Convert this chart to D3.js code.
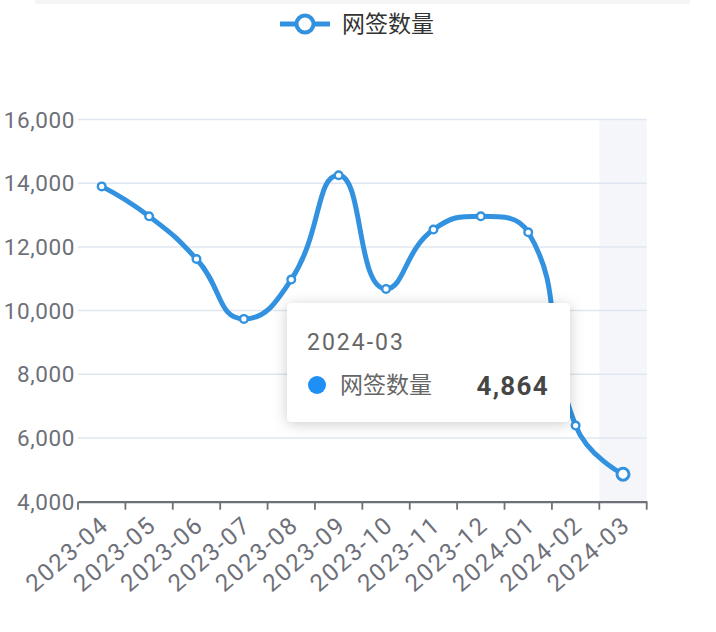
<!DOCTYPE html>
<html><head><meta charset="utf-8">
<script src="https://cdn.jsdelivr.net/npm/d3@7/dist/d3.min.js"></script>
<style>
html,body{margin:0;padding:0;background:#fff;}
svg{display:block;font-family:Roboto,"Noto Sans CJK SC",sans-serif;}
</style></head>
<body>
<svg id="chart" width="716" height="632"></svg>
<script>
const categories = ["2023-04","2023-05","2023-06","2023-07","2023-08","2023-09","2023-10","2023-11","2023-12","2024-01","2024-02","2024-03"];
const values = [13900,12960,11620,9740,10975,14250,10680,12545,12960,12460,6390,4864];
const yTicks = [4000,6000,8000,10000,12000,14000,16000];
const seriesName = "网签数量";
const hoverIndex = 11;

const svg = d3.select("#chart");
const plotLeft = 78, plotRight = 646.7, plotTop = 119.5, plotBottom = 501.7;
const lineColor = "#3292df";

const x = d3.scaleBand().domain(categories).range([plotLeft, plotRight]);
const y = d3.scaleLinear().domain([4000, 16000]).range([plotBottom, plotTop]);

// faint strip at the very top
svg.append("rect").attr("x", 35).attr("y", 0).attr("width", 655).attr("height", 4).attr("fill", "#f5f5f5");

// axis pointer shadow
svg.append("rect")
  .attr("x", x(categories[hoverIndex])).attr("y", plotTop)
  .attr("width", x.bandwidth()).attr("height", plotBottom - plotTop)
  .attr("fill", "#f5f6fa");

// grid lines
svg.append("g").selectAll("line").data(yTicks.filter(d => d !== 4000)).join("line")
  .attr("x1", plotLeft).attr("x2", plotRight)
  .attr("y1", d => y(d)).attr("y2", d => y(d))
  .attr("stroke", "#e0e6f1").attr("stroke-width", 1.5);

// y axis labels
const fmt = d3.format(",");
svg.append("g").selectAll("text").data(yTicks).join("text")
  .attr("x", plotLeft - 3).attr("y", d => y(d))
  .attr("dy", "0.36em")
  .attr("text-anchor", "end")
  .attr("font-size", 22.5)
  .attr("letter-spacing", 0.6)
  .attr("fill", "#6e7079")
  .text(d => fmt(d));

// x axis
const xAxis = d3.axisBottom(x).tickSize(0).tickFormat("");
const gx = svg.append("g").attr("transform", `translate(0,${plotBottom})`).call(xAxis);
gx.select(".domain").attr("stroke", "#6e7079").attr("stroke-width", 2.2);
gx.selectAll(".tick").remove();
const boundaries = categories.map(c => x(c)).concat([plotRight]);
gx.selectAll("line.bt").data(boundaries).join("line").attr("class", "bt")
  .attr("x1", d => d).attr("x2", d => d).attr("y1", 0).attr("y2", 8)
  .attr("stroke", "#6e7079").attr("stroke-width", 1.8);

const angle = -41;
svg.append("g").selectAll("text").data(categories).join("text")
  .attr("transform", d => `translate(${x(d) + x.bandwidth() / 2 + 3},${plotBottom + 19}) rotate(${angle})`)
  .attr("text-anchor", "end")
  .attr("dy", "0.36em")
  .attr("font-size", 24)
  .attr("letter-spacing", 1.8)
  .attr("fill", "#6e7079")
  .text(d => d);

// ECharts-like smooth line
const pts = categories.map((c, i) => [x(c) + x.bandwidth() / 2, y(values[i])]);
function smoothPath(points, smooth) {
  const p = d3.path();
  let cpx0, cpy0, prevX, prevY, nextCpx0, nextCpy0;
  const n = points.length;
  for (let i = 0; i < n; i++) {
    const [px, py] = points[i];
    if (i === 0) {
      p.moveTo(px, py);
      cpx0 = px; cpy0 = py;
    } else {
      let cpx1, cpy1;
      if (i === n - 1) {
        cpx1 = px; cpy1 = py;
      } else {
        const [nx, ny] = points[i + 1];
        let vx = nx - prevX, vy = ny - prevY;
        const dx0 = px - prevX, dy0 = py - prevY, dx1 = nx - px, dy1 = ny - py;
        const lenPrev = Math.hypot(dx0, dy0), lenNext = Math.hypot(dx1, dy1);
        const ratio = lenNext / (lenNext + lenPrev);
        nextCpx0 = px + vx * smooth * ratio;
        nextCpy0 = py + vy * smooth * ratio;
        nextCpx0 = Math.max(Math.min(nextCpx0, Math.max(nx, px)), Math.min(nx, px));
        nextCpy0 = Math.max(Math.min(nextCpy0, Math.max(ny, py)), Math.min(ny, py));
        vx = nextCpx0 - px; vy = nextCpy0 - py;
        cpx1 = px - vx * lenPrev / lenNext;
        cpy1 = py - vy * lenPrev / lenNext;
        cpx1 = Math.max(Math.min(cpx1, Math.max(prevX, px)), Math.min(prevX, px));
        cpy1 = Math.max(Math.min(cpy1, Math.max(prevY, py)), Math.min(prevY, py));
        vx = px - cpx1; vy = py - cpy1;
        nextCpx0 = px + vx * lenNext / lenPrev;
        nextCpy0 = py + vy * lenNext / lenPrev;
      }
      p.bezierCurveTo(cpx0, cpy0, cpx1, cpy1, px, py);
      cpx0 = nextCpx0; cpy0 = nextCpy0;
    }
    prevX = px; prevY = py;
  }
  return p.toString();
}

svg.append("path")
  .attr("d", smoothPath(pts, 0.5))
  .attr("fill", "none")
  .attr("stroke", lineColor)
  .attr("stroke-width", 5)
  .attr("stroke-linejoin", "round")
  .attr("stroke-linecap", "round");

svg.append("g").selectAll("circle").data(pts).join("circle")
  .attr("cx", d => d[0]).attr("cy", d => d[1])
  .attr("r", (d, i) => i === hoverIndex ? 6 : 3.8)
  .attr("fill", "#fff")
  .attr("stroke", lineColor)
  .attr("stroke-width", (d, i) => i === hoverIndex ? 3 : 2.4);

// legend
const lg = svg.append("g");
lg.append("line").attr("x1", 280).attr("x2", 330).attr("y1", 24).attr("y2", 24)
  .attr("stroke", lineColor).attr("stroke-width", 5);
lg.append("circle").attr("cx", 305).attr("cy", 24).attr("r", 8.5)
  .attr("fill", "#fff").attr("stroke", lineColor).attr("stroke-width", 4);
lg.append("text").attr("x", 342).attr("y", 24).attr("dy", "0.36em")
  .attr("font-family", "'Noto Sans CJK SC',sans-serif")
  .attr("font-size", 23).attr("fill", "#333").text(seriesName);

// tooltip
const defs = svg.append("defs");
const f = defs.append("filter").attr("id", "shadow").attr("x", "-20%").attr("y", "-30%").attr("width", "140%").attr("height", "160%");
f.append("feDropShadow").attr("dx", 0).attr("dy", 2).attr("stdDeviation", 7).attr("flood-color", "#000").attr("flood-opacity", 0.2);

const tt = svg.append("g");
tt.append("rect").attr("x", 287).attr("y", 303).attr("width", 283).attr("height", 119)
  .attr("rx", 5).attr("fill", "#fff").attr("filter", "url(#shadow)");
tt.append("text").attr("x", 307).attr("y", 350)
  .attr("font-size", 23).attr("letter-spacing", 2).attr("fill", "#666").text(categories[hoverIndex]);
tt.append("circle").attr("cx", 317).attr("cy", 385).attr("r", 9).attr("fill", "#1e8ff5");
tt.append("text").attr("x", 340).attr("y", 393)
  .attr("font-family", "'Noto Sans CJK SC',sans-serif")
  .attr("font-size", 23).attr("fill", "#666").text(seriesName);
tt.append("text").attr("x", 549).attr("y", 395).attr("text-anchor", "end")
  .attr("font-size", 26).attr("font-weight", "bold").attr("letter-spacing", 1.3).attr("fill", "#464646")
  .text(fmt(values[hoverIndex]));
</script>
</body></html>
